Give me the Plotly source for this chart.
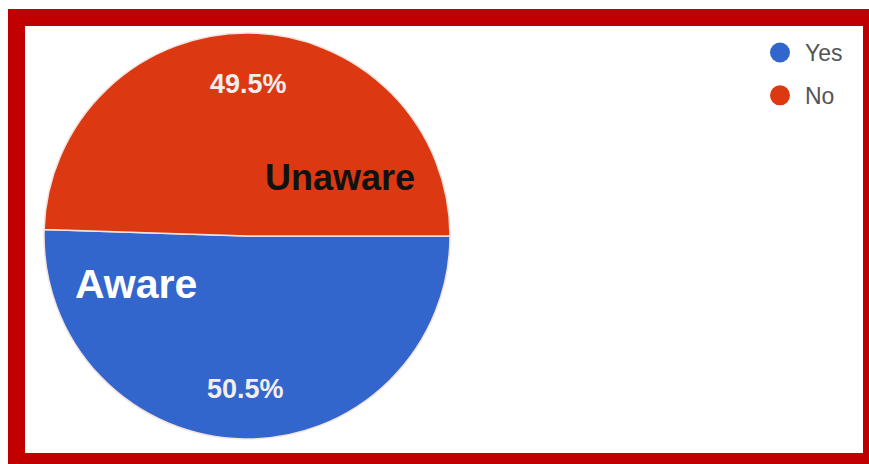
import plotly.graph_objects as go

# ---- data ----
labels = ["Yes", "No"]
values = [50.5, 49.5]
colors = ["#3366CC", "#DC3912"]
slice_names = ["Aware", "Unaware"]

W, H = 869, 464

def px(x):
    return x / W

def py(y):
    return 1 - y / H

# pie geometry (pixels)
cx, cy, r = 247, 236, 203

fig = go.Figure()

fig.add_trace(go.Pie(
    labels=labels,
    values=values,
    sort=False,
    direction="clockwise",
    rotation=90,
    marker=dict(colors=colors, line=dict(color="#F4E4E0", width=1.5)),
    textinfo="none",
    hoverinfo="label+percent",
    showlegend=False,
    domain=dict(x=[px(cx - r), px(cx + r)], y=[py(cy + r), py(cy - r)]),
))

# legend entries with circle symbols
for i, (lab, col) in enumerate(zip(labels, colors)):
    fig.add_trace(go.Scatter(
        x=[None], y=[None], mode="markers", name=lab,
        legendgroup=f"g{i}",
        marker=dict(symbol="circle", size=22, color=col,
                    line=dict(color=col, width=4)),
    ))

total = sum(values)
pct_pos = [(245, 389), (248, 84)]
annotations = []
for v, (ax, ay) in zip(values, pct_pos):
    annotations.append(dict(
        x=px(ax), y=py(ay), xref="paper", yref="paper",
        text=f"<b>{100 * v / total:.1f}%</b>", showarrow=False,
        font=dict(family="Liberation Sans, Arial", size=27, color="#F2EEEE"),
        xanchor="center", yanchor="middle",
    ))

name_pos = [(136, 284, 41, "#FFFFFF"), (340, 178, 36, "#111111")]
for nm, (ax, ay, fs, fc) in zip(slice_names, name_pos):
    annotations.append(dict(
        x=px(ax), y=py(ay), xref="paper", yref="paper",
        text=f"<b>{nm}</b>", showarrow=False,
        font=dict(family="Liberation Sans, Arial", size=fs, color=fc),
        xanchor="center", yanchor="middle",
    ))

shapes = [
    dict(type="rect", xref="paper", yref="paper", layer="below",
         x0=px(8), x1=px(W + 10), y0=py(H + 10), y1=py(9),
         fillcolor="#C00000", line=dict(width=0)),
    dict(type="rect", xref="paper", yref="paper", layer="below",
         x0=px(25), x1=px(863), y0=py(453), y1=py(26),
         fillcolor="#FFFFFF", line=dict(width=0)),
]

fig.update_layout(
    width=W, height=H, autosize=False,
    margin=dict(l=0, r=0, t=0, b=0),
    paper_bgcolor="#FFFFFF",
    plot_bgcolor="rgba(0,0,0,0)",
    xaxis=dict(visible=False, domain=[0.9, 0.91]),
    yaxis=dict(visible=False, domain=[0.9, 0.91]),
    legend=dict(
        x=px(755), y=py(31), xanchor="left", yanchor="top",
        font=dict(family="Liberation Sans, Arial", size=23, color="#555555"),
        itemsizing="trace", itemwidth=40,
        traceorder="grouped", tracegroupgap=10,
        bgcolor="rgba(0,0,0,0)",
    ),
    showlegend=True,
    annotations=annotations,
    shapes=shapes,
)

fig.write_html(
    "out.html",
    config={"displayModeBar": False},
    post_script="document.body.style.margin='0';document.body.style.overflow='hidden';",
)
